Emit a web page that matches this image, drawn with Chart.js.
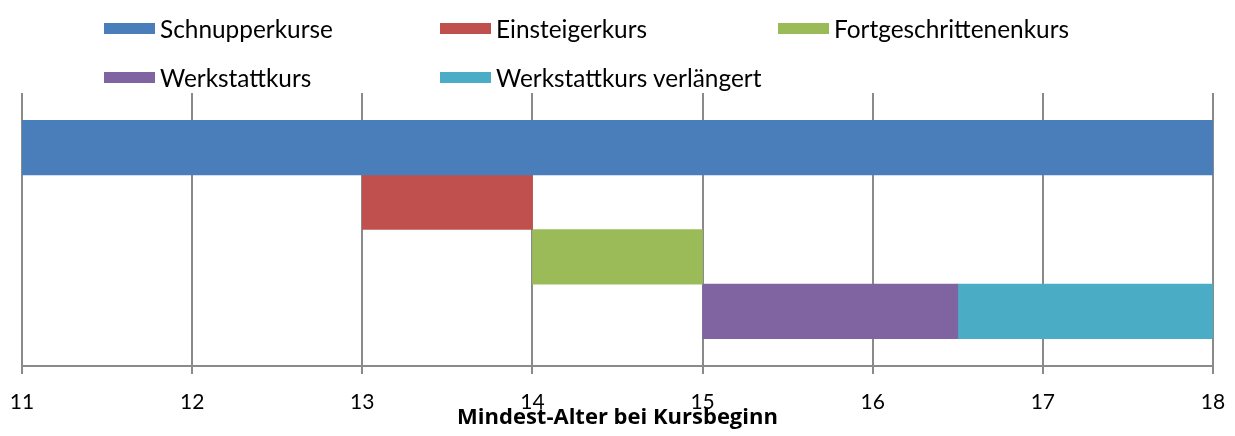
<!DOCTYPE html>
<html>
<head>
<meta charset="utf-8">
<script src="https://cdn.jsdelivr.net/npm/chart.js@4/dist/chart.umd.min.js"></script>
<style>
  html, body { margin: 0; padding: 0; background: #fff; }
  #wrap { position: relative; width: 1235px; height: 436px; }
  #legend {
    position: absolute; left: 104px; top: 4px;
    display: grid; grid-template-columns: 336px 338px auto;
    grid-auto-rows: 49px;
    font-family: Lato, sans-serif; font-size: 24.4px; color: #000;
  }
  #legend .item { display: flex; align-items: center; white-space: nowrap; }
  #legend .box { width: 51px; height: 11px; margin-right: 5px; }
</style>
</head>
<body>
<div id="wrap">
  <canvas id="chart" width="1235" height="436"></canvas>
  <div id="legend"></div>
</div>
<script>
// Kurse und Altersspannen
const courses = ['Schnupperkurse', 'Einsteigerkurs', 'Fortgeschrittenenkurs', 'Werkstattkurs', 'Werkstattkurs verlängert'];
const startAge = [11, 13, 14, 15, 16.5];
const endAge = [18, 14, 15, 16.5, 18];
const rowIndex = [1, 2, 3, 4, 4];
const ageTicks = [11, 12, 13, 14, 15, 16, 17, 18];

const colors = ['#4a7ebb', '#c0504d', '#9bbb59', '#8064a2', '#4bacc6'];

// HTML-Legende im Raster wie im Original
const htmlLegend = {
  id: 'htmlLegend',
  afterUpdate(chart) {
    const el = document.getElementById('legend');
    el.innerHTML = '';
    chart.data.datasets.forEach(ds => {
      const item = document.createElement('div');
      item.className = 'item';
      const box = document.createElement('span');
      box.className = 'box';
      box.style.background = ds.backgroundColor;
      const txt = document.createElement('span');
      txt.textContent = ds.label;
      item.appendChild(box);
      item.appendChild(txt);
      el.appendChild(item);
    });
  }
};

const datasets = courses.map((name, i) => ({
  label: name,
  data: [{ x: [startAge[i], endAge[i]], y: rowIndex[i] }],
  backgroundColor: colors[i],
  borderWidth: 0,
  barPercentage: 1,
  categoryPercentage: 1,
  grouped: false
}));

new Chart(document.getElementById('chart'), {
  type: 'bar',
  data: { datasets: datasets },
  plugins: [htmlLegend],
  options: {
    indexAxis: 'y',
    responsive: false,
    animation: false,
    layout: { padding: { top: 93, left: 22, right: 22, bottom: 10 } },
    plugins: {
      legend: { display: false },
      tooltip: { enabled: false }
    },
    scales: {
      y: {
        type: 'linear',
        min: 0,
        max: 5,
        offset: false,
        reverse: true,
        display: false,
        ticks: { stepSize: 1 }
      },
      x: {
        type: 'linear',
        min: ageTicks[0],
        max: ageTicks[ageTicks.length - 1],
        afterBuildTicks(scale) {
          scale.ticks = ageTicks.map(v => ({ value: v }));
        },
        afterFit(scale) {
          scale.height = 60;
          scale.paddingLeft = 0;
          scale.paddingRight = 0;
        },
        grid: { color: '#8a8a8a', lineWidth: 2, tickLength: 8, drawTicks: true },
        border: { color: '#8a8a8a', width: 2 },
        ticks: {
          padding: 18,
          color: '#000',
          font: { family: 'Lato', size: 21, lineHeight: 1 }
        },
        title: {
          display: true,
          text: 'Mindest-Alter bei Kursbeginn',
          color: '#000',
          padding: { top: 0, bottom: 2 },
          font: { family: 'Open Sans', size: 22, weight: 'bold', lineHeight: 0.6 }
        }
      }
    }
  }
});
</script>
</body>
</html>
